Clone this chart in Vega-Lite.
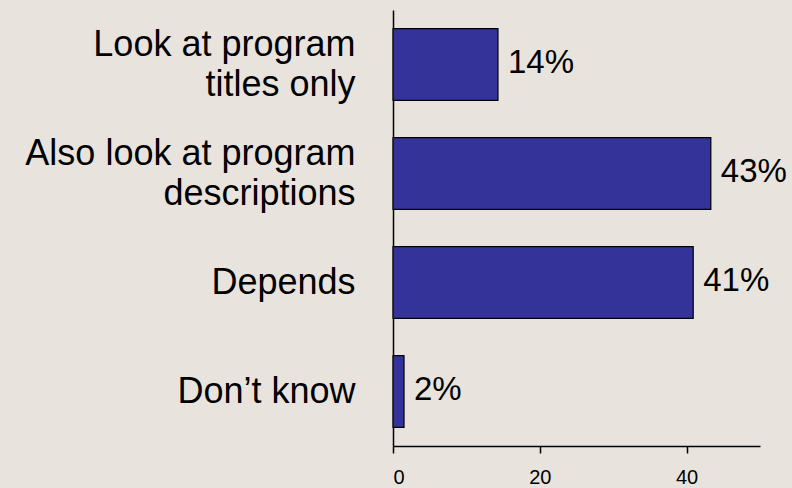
{
  "$schema": "https://vega.github.io/schema/vega-lite/v6.json",
  "width": 367,
  "height": 436,
  "autosize": {"type": "none"},
  "padding": {"left": 393, "top": 10, "right": 32, "bottom": 42},
  "background": "#e8e4dd",
  "config": {"view": {"stroke": null}, "font": "Liberation Sans"},
  "data": {
    "values": [
      {"answer": "Look at program|titles only", "value": 14.3, "label": "14%"},
      {"answer": "Also look at program|descriptions", "value": 43.3, "label": "43%"},
      {"answer": "Depends", "value": 40.9, "label": "41%"},
      {"answer": "Don’t know", "value": 1.5, "label": "2%"}
    ]
  },
  "encoding": {
    "y": {
      "field": "answer",
      "type": "nominal",
      "sort": null,
      "scale": {"paddingInner": 0.34, "paddingOuter": 0.17},
      "axis": {
        "title": null,
        "ticks": false,
        "labelExpr": "split(datum.label, '|')",
        "labelOffset": {"condition": {"test": "indexof(datum.value, '|') >= 0", "value": -20}, "value": 0},
        "labelFont": "Liberation Sans",
        "labelFontSize": 36,
        "labelColor": "#000000",
        "labelPadding": 38,
        "labelLineHeight": 40,
        "labelLimit": 500,
        "domainColor": "#000000",
        "domainWidth": 1.5
      }
    },
    "x": {
      "field": "value",
      "type": "quantitative",
      "scale": {"domain": [0, 50], "nice": false},
      "axis": {
        "title": null,
        "values": [0, 20, 40],
        "grid": false,
        "tickColor": "#000000",
        "tickSize": 7,
        "tickWidth": 1.5,
        "domainColor": "#000000",
        "domainWidth": 1.5,
        "labelFont": "Liberation Sans",
        "labelFontSize": 20,
        "labelColor": "#000000",
        "labelPadding": 14
      }
    }
  },
  "layer": [
    {
      "mark": {"type": "bar", "fill": "#333399", "stroke": "#000000", "strokeWidth": 1.2}
    },
    {
      "mark": {"type": "text", "align": "left", "baseline": "middle", "dx": 10, "dy": -2, "fontSize": 33, "font": "Liberation Sans", "color": "#000000"},
      "encoding": {"text": {"field": "label"}}
    }
  ]
}
